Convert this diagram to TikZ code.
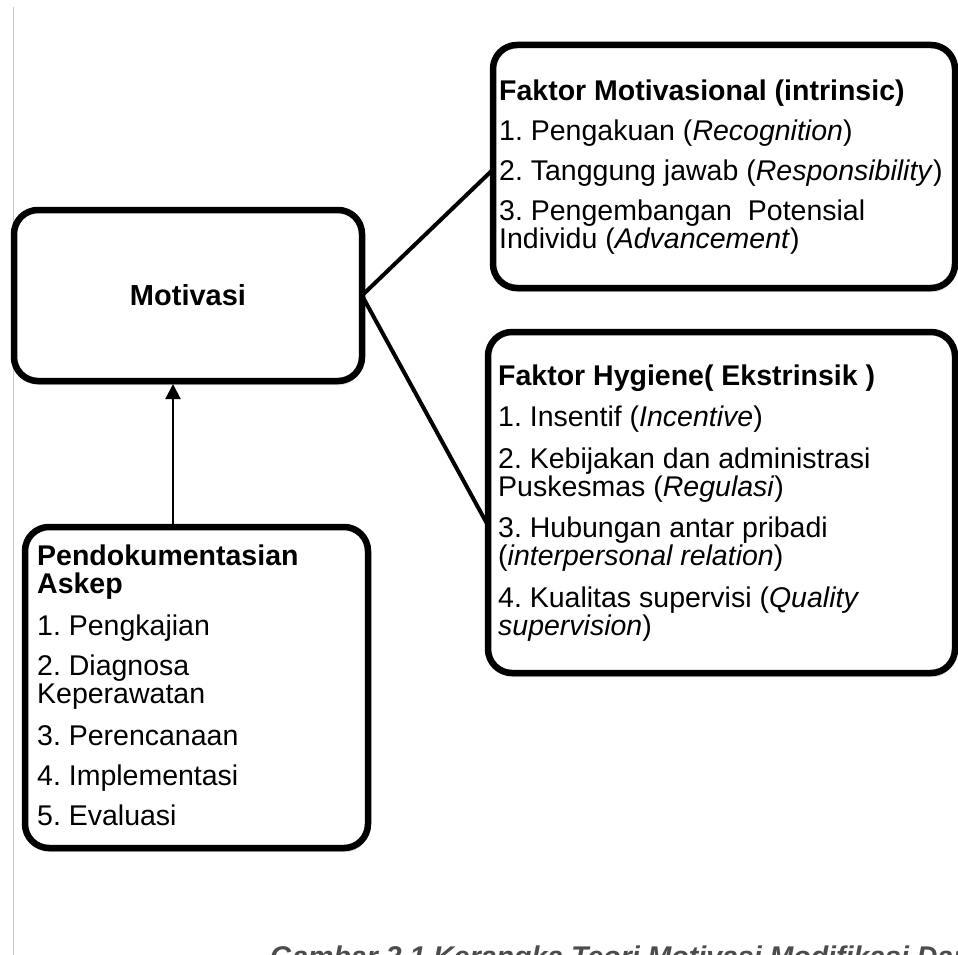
\documentclass[tikz,border=0pt]{standalone}
\usepackage{fontspec}
\setmainfont{Liberation Sans}
\usetikzlibrary{arrows.meta,calc,shadows}
\frenchspacing
\begin{document}
\begin{tikzpicture}[x=1pt,y=-1pt,
  box/.style={draw=black, line width=6.5pt, rounded corners=24pt, fill=white,
    drop shadow={shadow xshift=1pt, shadow yshift=-4pt, opacity=0.3, fill=black!60},
    inner sep=0pt, outer sep=0pt},
  txt/.style={anchor=north west, inner sep=0pt, align=left,
    font=\fontsize{28.5}{28}\selectfont\frenchspacing},
  link/.style={draw=black, line width=4pt},
  uparrow/.style={draw=black, line width=2pt, -{Triangle[width=15pt,length=15pt]}},
  pageline/.style={draw=gray!45, line width=1pt},
  caption/.style={anchor=base west, inner sep=0pt, text=black!70,
    font=\fontsize{28.5}{28}\selectfont\bfseries\itshape\frenchspacing}]
\fill[white] (0,0) rectangle (958,955);
\useasboundingbox (0,0) rectangle (958,955);
\begin{scope}
\clip (0,0) rectangle (958,955);
\draw[pageline] (13,7) -- (13,955);

\node[box, minimum width=348pt, minimum height=171pt,
  font=\fontsize{29}{28}\selectfont\bfseries] (mot) at (188,295.5) {Motivasi};
\node[box, minimum width=462pt, minimum height=243pt] (intr) at (724,166.5) {};
\node[box, minimum width=467pt, minimum height=341pt] (hyg) at (721.5,502.5) {};
\node[box, minimum width=343pt, minimum height=321pt] (pend) at (196.5,687.5) {};

\node[txt] (intrtext) at (499,78) {\rule{0pt}{22pt}\textbf{Faktor Motivasional (intrinsic)}\\[12pt]
1. Pengakuan (\textit{Recognition})\\[12pt]
2. Tanggung jawab (\textit{Responsibility})\\[12pt]
3. Pengembangan\ \ Potensial\\
Individu (\textit{Advancement})};

\node[txt] (hygtext) at (498,363) {\rule{0pt}{22pt}\textbf{Faktor Hygiene( Ekstrinsik )}\\[13.5pt]
1. Insentif (\textit{Incentive})\\[13.5pt]
2. Kebijakan dan administrasi\\
Puskesmas (\textit{Regulasi})\\[13.5pt]
3. Hubungan antar pribadi\\
(\textit{interpersonal relation})\\[13.5pt]
4. Kualitas supervisi (\textit{Quality}\\
\textit{supervision})};

\node[txt] (pendtext) at (37,543) {\rule{0pt}{22pt}\textbf{Pendokumentasian}\\
\textbf{Askep}\\[14pt]
1. Pengkajian\\[12pt]
2. Diagnosa\\
Keperawatan\\[14pt]
3. Perencanaan\\[12pt]
4. Implementasi\\[12pt]
5. Evaluasi};

\draw[link] (mot.east) -- ($(intr.west)+(0,3)$);
\draw[link] (mot.east) -- ($(hyg.west)+(0,23)$);
\draw[uparrow] ($(pend.north)+(-23.5,0)$) -- ($(mot.south)+(-15,3)$);

\node[caption] (cap) at (270,966) {Gambar 2.1 Kerangka Teori Motivasi Modifikasi Dari};
\end{scope}
\end{tikzpicture}
\end{document}
